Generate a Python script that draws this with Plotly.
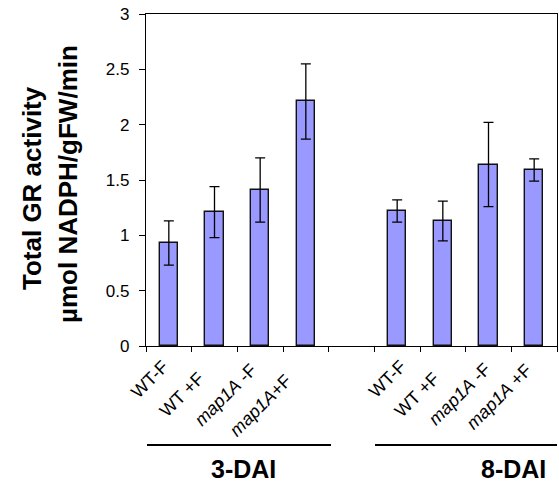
import plotly.graph_objects as go

categories = ["WT-F", "WT +F", "<i>map1A</i> -F", "<i>map1A</i>+F", "",
              "WT-F", "WT +F", "<i>map1A</i> -F", "<i>map1A</i> +F"]
values = [0.93, 1.21, 1.41, 2.21, None, 1.22, 1.13, 1.64, 1.59]
errors = [0.20, 0.23, 0.29, 0.34, None, 0.10, 0.18, 0.38, 0.10]
groups = ["3-DAI", "8-DAI"]
y_ticks = [0, 0.5, 1, 1.5, 2, 2.5, 3]
y_ticktext = ["0", "0.5", "1", "1.5", "2", "2.5", "3"]

xpos = [i + 0.5 for i in range(len(categories))]
bx = [x for x, v in zip(xpos, values) if v is not None]
by = [v for v in values if v is not None]
be = [e for e in errors if e is not None]

font = "Arial, Liberation Sans, sans-serif"
W, H = 559, 491
l, r, t, b = 146, 2, 14, 145
pw, ph = W - l - r, H - t - b


def px(xr):
    return (xr - l) / pw


def py(yr):
    return 1 - (yr - t) / ph


fig = go.Figure()
fig.add_trace(go.Bar(
    x=bx, y=by, width=0.4,
    marker=dict(color="#9999FF", line=dict(color="#111111", width=1.4)),
    error_y=dict(type="data", array=be, visible=True, color="black", thickness=1.3, width=5),
    showlegend=False, hoverinfo="skip",
))

fig.update_layout(
    width=W, height=H,
    margin=dict(l=l, r=r, t=t, b=b),
    plot_bgcolor="white", paper_bgcolor="white",
    font=dict(family=font, color="black"),
    xaxis=dict(range=[0, 9], tickvals=list(range(10)), ticktext=[""] * 10,
               ticks="outside", ticklen=5, tickcolor="black", tickwidth=1.2, showline=True,
               linecolor="black", linewidth=1.3, mirror=True, showgrid=False, zeroline=False,
               fixedrange=True),
    yaxis=dict(range=[0, 3], tickvals=y_ticks, ticktext=y_ticktext,
               ticks="outside", ticklen=6, tickcolor="black", tickwidth=1.2, showline=True,
               linecolor="black", linewidth=1.3, mirror=True, showgrid=False, zeroline=False,
               tickfont=dict(size=17, family=font), ticklabelstandoff=6,
               ticklabeloverflow="allow", fixedrange=True),
    bargap=0,
)

# rotated category labels (staggered as in the original)
label_shift = [5, -6, 1, -9, 0, 14, 1, 7, 2]
label_top = [356, 368, 359, 369, 0, 356, 368, 358, 359]
for i, cat in enumerate(categories):
    if not cat:
        continue
    fig.add_annotation(text=cat, x=xpos[i], xref="x", y=py(label_top[i] - 2), yref="paper",
                       xshift=label_shift[i] + 2, showarrow=False, textangle=-45,
                       xanchor="right", yanchor="top", font=dict(size=18, family=font))

ann = [
    dict(text="<b>Total GR activity</b>", x=32, yc=188),
    dict(text="<b>µmol NADPH/gFW/min</b>", x=68, yc=184),
]
for a in ann:
    fig.add_annotation(text=a["text"], x=px(a["x"]), y=py(a["yc"]),
                       xref="paper", yref="paper", showarrow=False, textangle=-90,
                       xanchor="center", yanchor="middle", font=dict(size=26, family=font))

group_lines = [(147, 331, 243), (375, 557, 513)]
for (x0, x1, xc), g in zip(group_lines, groups):
    fig.add_shape(type="line", x0=px(x0), x1=px(x1), y0=py(445), y1=py(445),
                  xref="paper", yref="paper", line=dict(color="black", width=2))
    fig.add_annotation(text="<b>" + g + "</b>", x=px(xc), y=py(469),
                       xref="paper", yref="paper", showarrow=False,
                       xanchor="center", yanchor="middle", font=dict(size=25, family=font))

fig.write_html("out.html", config={"displayModeBar": False},
               post_script="document.body.style.margin='0';document.body.style.overflow='hidden';")
